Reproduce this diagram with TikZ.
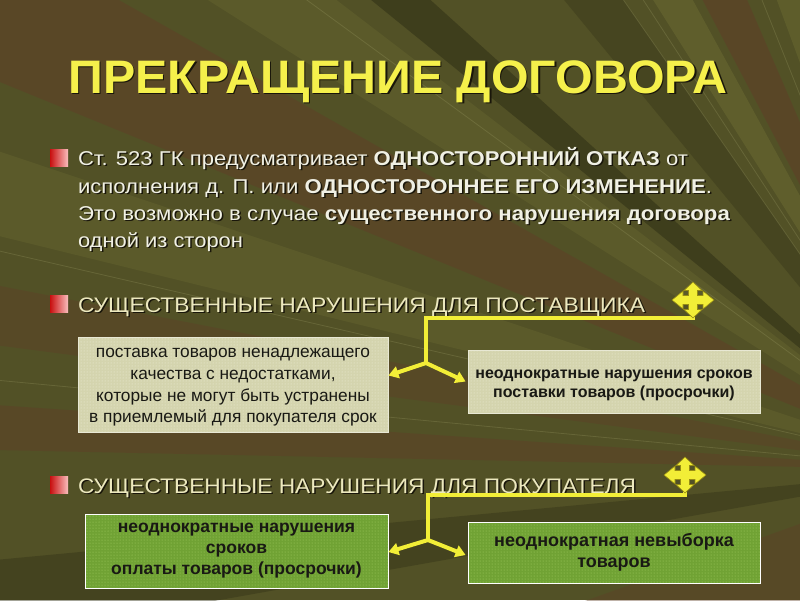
\documentclass[tikz,border=0pt]{standalone}
\usepackage{graphicx}
\usepackage{fontspec}
\setmainfont{Liberation Sans}
\usetikzlibrary{arrows.meta,patterns}
\definecolor{bgbase}{RGB}{82,81,38}
\definecolor{brownA}{RGB}{96,62,38}
\definecolor{darkO}{RGB}{52,52,24}
\definecolor{lightO}{RGB}{112,112,52}
\definecolor{streak}{RGB}{150,150,95}
\definecolor{titlec}{RGB}{245,240,75}
\definecolor{bodyc}{RGB}{240,240,228}
\definecolor{headc}{RGB}{236,232,190}
\definecolor{shadowc}{RGB}{25,22,10}
\definecolor{bulletL}{RGB}{200,15,15}
\definecolor{bulletR}{RGB}{250,190,190}
\definecolor{yellowc}{RGB}{242,238,55}
\definecolor{iconedge}{RGB}{150,140,20}
\definecolor{boxA}{RGB}{212,212,174}
\definecolor{dotsA}{RGB}{240,240,218}
\definecolor{borderA}{RGB}{232,232,212}
\definecolor{boxG}{RGB}{112,162,52}
\definecolor{dotsG}{RGB}{165,208,100}
\definecolor{boxtext}{RGB}{25,25,20}
\tikzset{
  txt/.style={inner sep=0pt, outer sep=0pt},
  conn/.style={draw=yellowc, line width=4pt, line join=miter},
  tip/.style={-{Triangle[width=12pt,length=10pt]}},
  boxlight/.style={preaction={fill=boxA}, pattern=dots, pattern color=dotsA,
     draw=borderA, line width=0.8pt, inner sep=0pt},
  boxgreen/.style={preaction={fill=boxG}, pattern=dots, pattern color=dotsG,
     draw=white, line width=0.8pt, inner sep=0pt},
  boxtxt/.style={align=center, text=boxtext, inner sep=0pt},
  bulletbox/.style={left color=bulletL, right color=bulletR},
}
% one node holding a text and its drop shadow
\newcommand\shtext[6]{% name, pos, anchor, color, shadow offset, text
  \node[txt, anchor=#3] (#1) at (#2)
   {\rlap{\hspace*{#5pt}\raisebox{-#5pt}{\color{shadowc}#6}}\color{#4}#6};}
\newcommand\fourway[1]{%
  \begin{scope}[shift={(#1)}]
  \filldraw[fill=yellowc, draw=iconedge, line width=0.6pt]
   (0,-18) -- (9,-9.5) -- (4.5,-9.5) -- (4.5,-4.5) -- (10,-4.5) -- (10,-9) -- (21,0)
   -- (10,9) -- (10,4.5) -- (4.5,4.5) -- (4.5,9.5) -- (9,9.5) -- (0,18)
   -- (-9,9.5) -- (-4.5,9.5) -- (-4.5,4.5) -- (-10,4.5) -- (-10,9) -- (-21,0)
   -- (-10,-9) -- (-10,-4.5) -- (-4.5,-4.5) -- (-4.5,-9.5) -- (-9,-9.5) -- cycle;
  \end{scope}}
\begin{document}
\begin{tikzpicture}[x=1pt,y=-1pt]
\useasboundingbox (0,0) rectangle (800,600);
\clip (0,0) rectangle (800,600);
% background
\fill[bgbase] (0,0) rectangle (800,600);
\coordinate (F) at (950,470);
\fill[brownA, opacity=0.5] (F) -- (110,-5) -- (-5,-5) -- (-5,80) -- cycle;
\fill[lightO, opacity=0.3] (F) -- (-5,150) -- (-5,235) -- cycle;
\fill[brownA, opacity=0.4] (F) -- (-5,285) -- (-5,345) -- cycle;
\fill[brownA, opacity=0.45] (F) -- (-5,405) -- (-5,450) -- cycle;
\fill[darkO, opacity=0.45] (F) -- (-5,560) -- (-5,640) -- cycle;
\fill[darkO, opacity=0.65] (F) -- (365,-5) -- (425,-5) -- cycle;
\fill[lightO, opacity=0.3] (F) -- (200,-5) -- (330,-5) -- cycle;
\fill[darkO, opacity=0.4] (F) -- (560,-5) -- (620,-5) -- cycle;
\fill[lightO, opacity=0.45] (F) -- (650,-5) -- (690,-5) -- cycle;
\fill[brownA, opacity=0.55] (F) -- (700,-5) -- (745,-5) -- cycle;
\fill[lightO, opacity=0.4] (F) -- (775,-5) -- (805,-5) -- cycle;
\fill[brownA, opacity=0.4] (F) -- (805,150) -- (805,200) -- cycle;
\fill[brownA, opacity=0.4] (F) -- (560,610) -- (810,610) -- cycle;
\foreach \p in {(620,-5),(640,-5),(760,-5),(805,60),(805,100),(-5,250),(-5,380),(300,-5)}
  \draw[streak, opacity=0.3, line width=0.8pt] (F) -- \p;
% title
\shtext{title}{398,93}{base}{titlec}{1.5}{\resizebox{659pt}{\height}{\fontsize{47}{52}\selectfont\bfseries ПРЕКРАЩЕНИЕ ДОГОВОРА}}
% bullet text
\shade[bulletbox] (50,149) rectangle (68,166);
\shtext{l1}{78,165}{base west}{bodyc}{1.5}{\resizebox{610pt}{\height}{\fontsize{20}{24}\selectfont Ст. 523 ГК предусматривает \textbf{ОДНОСТОРОННИЙ ОТКАЗ} от}}
\shtext{l2}{78,193}{base west}{bodyc}{1.5}{\resizebox{634pt}{\height}{\fontsize{20}{24}\selectfont исполнения д. П. или \textbf{ОДНОСТОРОННЕЕ ЕГО ИЗМЕНЕНИЕ}.}}
\shtext{l3}{78,220}{base west}{bodyc}{1.5}{\resizebox{652pt}{\height}{\fontsize{20}{24}\selectfont Это возможно в случае \textbf{существенного нарушения договора}}}
\shtext{l4}{78,247}{base west}{bodyc}{1.5}{\resizebox{165pt}{\height}{\fontsize{20}{24}\selectfont одной из сторон}}
% heading 2
\shade[bulletbox] (50,295) rectangle (68,312);
\shtext{h2}{78,312}{base west}{headc}{1.5}{\resizebox{567pt}{\height}{\fontsize{21}{25}\selectfont СУЩЕСТВЕННЫЕ НАРУШЕНИЯ ДЛЯ ПОСТАВЩИКА}}
% boxes 1,2
\node[boxlight, minimum width=310pt, minimum height=95pt] (b1) at (233,384.5) {};
\node[boxtxt, font=\fontsize{17.3}{21.7}\selectfont] (b1t) at ([yshift=-3pt]b1.center)
  {поставка товаров ненадлежащего\\ качества с недостатками,\\ которые не могут быть устранены\\ в приемлемый для покупателя срок};
\node[boxlight, minimum width=292pt, minimum height=63pt] (b2) at (614,381.5) {};
\node[boxtxt, font=\fontsize{16}{18.5}\selectfont\bfseries] (b2t) at ([yshift=-4pt]b2.center)
  {неоднократные нарушения сроков\\ поставки товаров (просрочки)};
% connector 1
\coordinate (ic1) at (693,300);
\coordinate (k1) at (426,318);
\coordinate (j1) at (426,363);
\draw[conn] ([yshift=-12pt]ic1) |- (k1) -- (j1);
\draw[conn, tip] (j1) -- ([yshift=9pt]b1.east);
\draw[conn, tip] (j1) -- ([xshift=-2pt]b2.west);
\fourway{ic1}
% heading 3
\shade[bulletbox] (50,476) rectangle (68,493);
\shtext{h3}{78,493}{base west}{headc}{1.5}{\resizebox{558pt}{\height}{\fontsize{21}{25}\selectfont СУЩЕСТВЕННЫЕ НАРУШЕНИЯ ДЛЯ ПОКУПАТЕЛЯ}}
% boxes 3,4
\node[boxgreen, minimum width=303pt, minimum height=74pt] (b3) at (236.5,551) {};
\node[boxtxt, font=\fontsize{17.5}{21}\selectfont\bfseries] (b3t) at (b3.center)
  {неоднократные нарушения\\ сроков\\ оплаты товаров (просрочки)};
\node[boxgreen, minimum width=292pt, minimum height=61pt] (b4) at (614,552.5) {};
\node[boxtxt, font=\fontsize{18}{21}\selectfont\bfseries] (b4t) at (b4.center)
  {неоднократная невыборка\\ товаров};
% connector 2
\coordinate (ic2) at (685,475);
\coordinate (k2) at (428,495);
\coordinate (j2) at (428,540);
\draw[conn] ([yshift=-10pt]ic2) |- (k2) -- (j2);
\draw[conn, tip] (j2) -- ([yshift=-1pt]b3.east);
\draw[conn, tip] (j2) -- ([xshift=-2pt,yshift=-2.5pt]b4.west);
\fourway{ic2}
\end{tikzpicture}
\end{document}
